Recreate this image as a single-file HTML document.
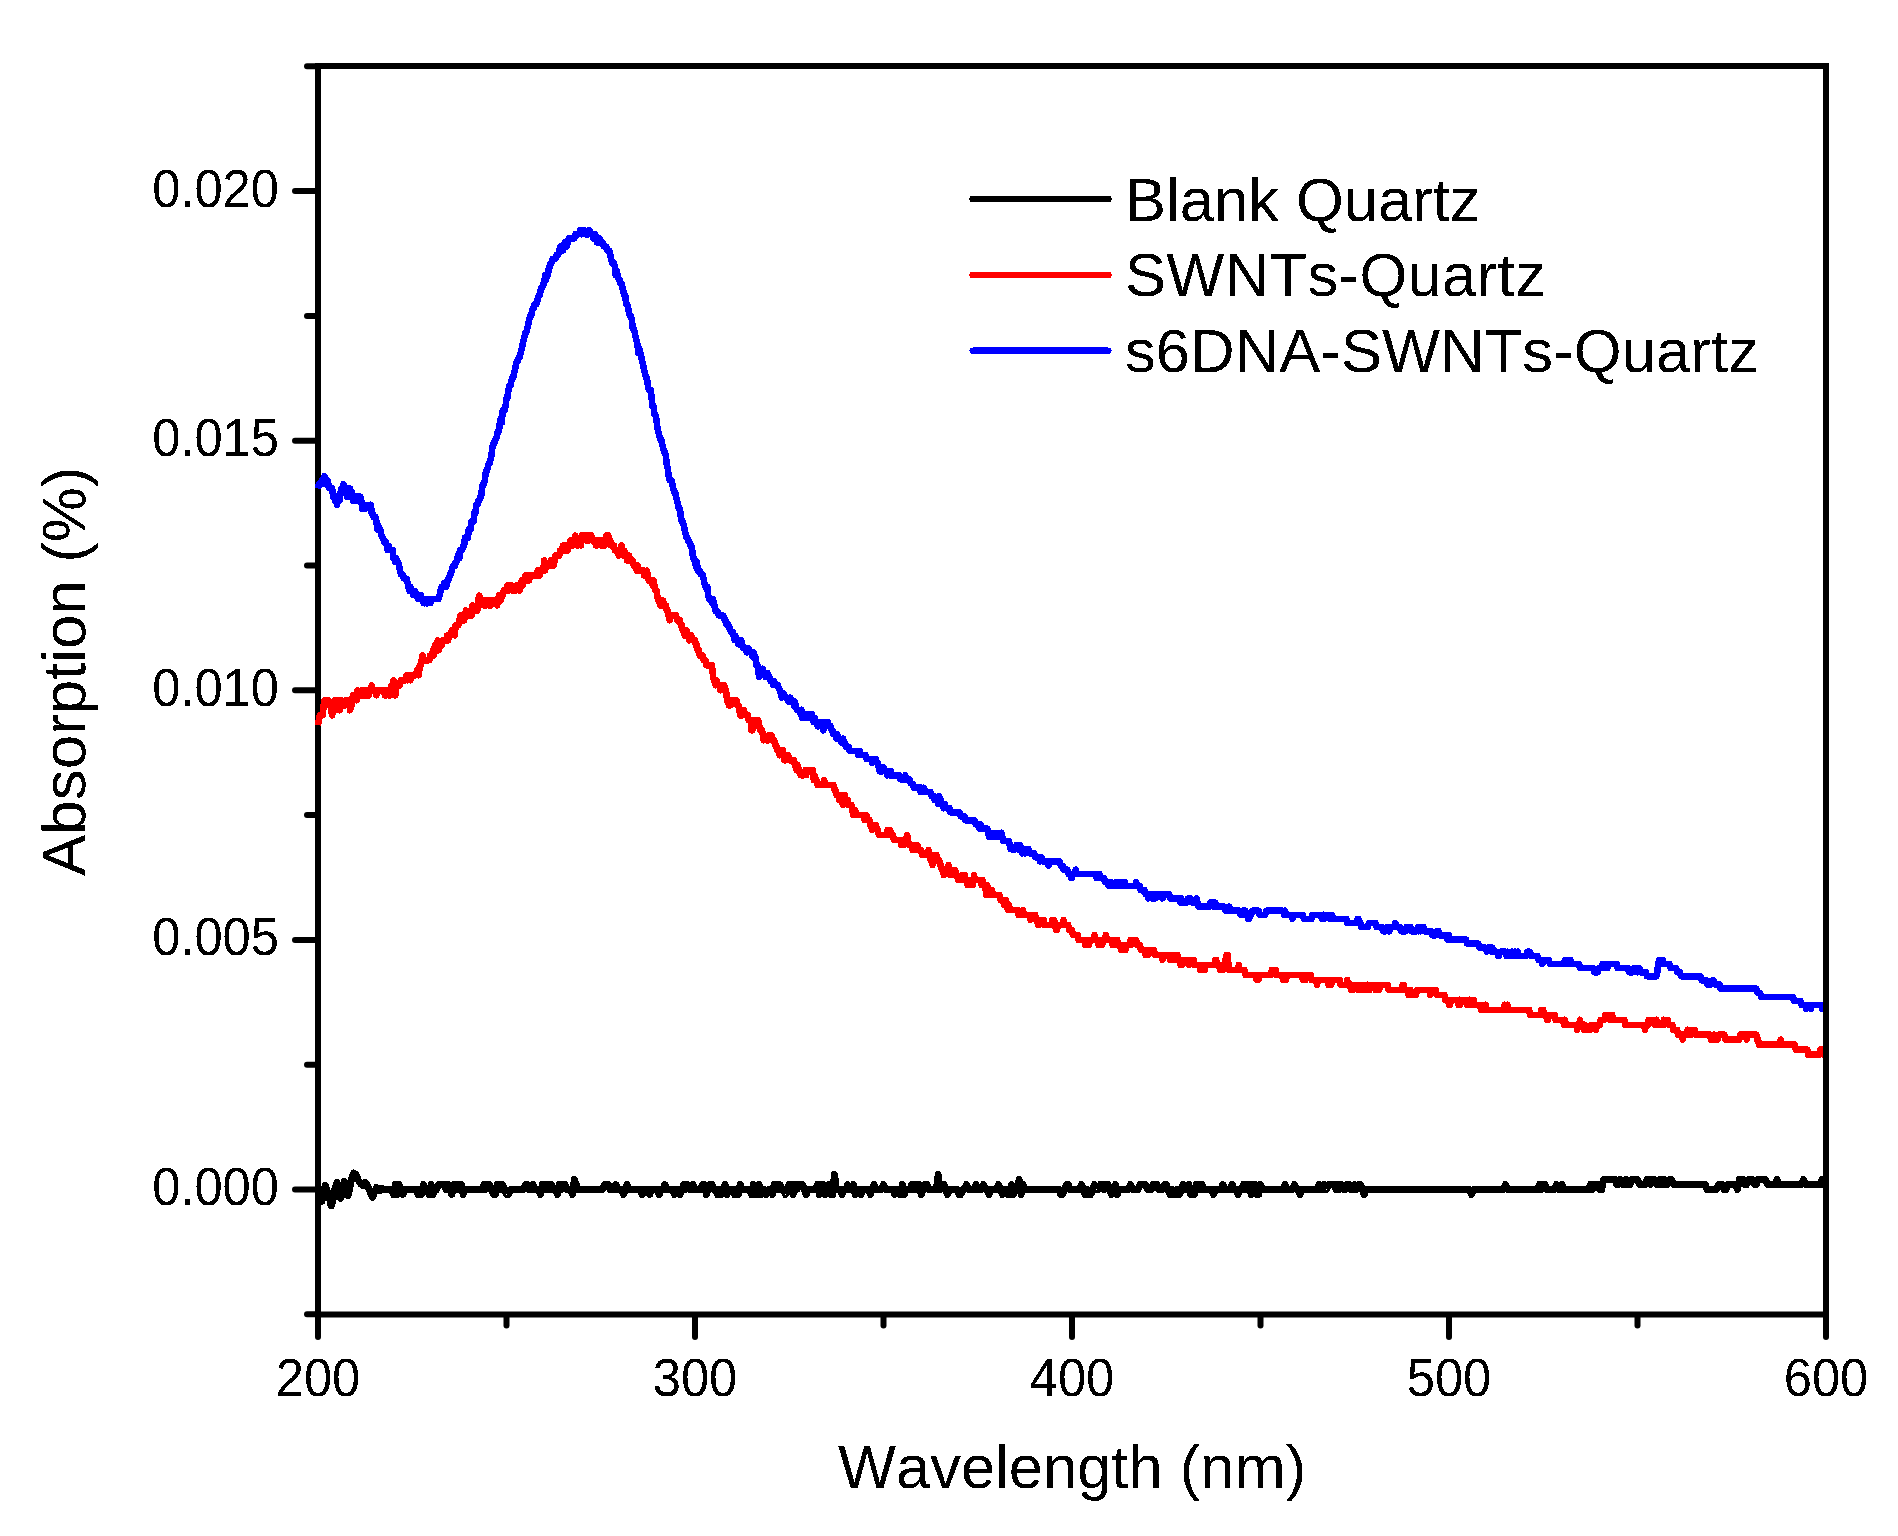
<!DOCTYPE html>
<html lang="en">
<head>
<meta charset="utf-8">
<title>Absorption spectra</title>
<style>
html,body{margin:0;padding:0;background:#fff;}
body{width:1898px;height:1536px;overflow:hidden;}
svg{display:block;}
text{font-family:"Liberation Sans",sans-serif;fill:#000;font-kerning:none;font-feature-settings:"kern" 0;}
.tk{font-size:50.7px;}
.lb{font-size:61.5px;}
.curve{fill:none;shape-rendering:crispEdges;stroke-width:7;stroke-linejoin:round;stroke-linecap:butt;}
</style>
</head>
<body>
<svg width="1898" height="1536" viewBox="0 0 1898 1536">
<defs>
<filter id="hard" filterUnits="userSpaceOnUse" x="0" y="0" width="1898" height="1536" color-interpolation-filters="sRGB">
<feComponentTransfer><feFuncA type="discrete" tableValues="0 1"/></feComponentTransfer>
</filter>
</defs>
<rect x="0" y="0" width="1898" height="1536" fill="#fff"/>
<!-- frame -->
<rect x="318.0" y="66.0" width="1508.0" height="1248.5" fill="none" stroke="#000" stroke-width="6"/>
<!-- data curves -->
<polyline class="curve" stroke="#000" points="318.0,1186.5 319.9,1192.5 321.8,1201.5 323.7,1194.5 325.5,1185.5 327.4,1191.5 329.3,1197.5 331.2,1206.0 333.1,1199.5 335.0,1188.5 336.9,1182.5 338.7,1187.5 340.6,1198.5 342.5,1192.5 344.4,1181.5 346.3,1188.5 348.2,1195.5 350.0,1186.5 351.9,1177.5 353.8,1173.0 355.7,1174.5 357.6,1178.5 359.5,1182.5 361.4,1184.5 363.2,1185.5 365.1,1182.5 367.0,1184.5 368.9,1188.5 370.8,1193.5 372.7,1197.5 374.6,1191.5 376.4,1187.5 378.3,1188.5 380.2,1190.5 382.1,1188.5 384.0,1189.5 385.9,1189.5 387.7,1189.5 389.6,1189.5 391.5,1189.5 393.4,1194.5 395.3,1184.5 397.2,1194.5 399.1,1184.5 400.9,1189.5 402.8,1194.5 404.7,1189.5 406.6,1189.5 408.5,1189.5 410.4,1189.5 412.2,1189.5 414.1,1189.5 416.0,1189.5 417.9,1194.5 419.8,1189.5 421.7,1194.5 423.6,1184.5 425.4,1189.5 427.3,1189.5 429.2,1194.5 431.1,1184.5 433.0,1194.5 434.9,1189.5 436.8,1189.5 438.6,1184.5 440.5,1184.5 442.4,1184.5 444.3,1184.5 446.2,1189.5 448.1,1184.5 449.9,1189.5 451.8,1194.5 453.7,1184.5 455.6,1189.5 457.5,1184.5 459.4,1189.5 461.3,1184.5 463.1,1194.5 465.0,1189.5 466.9,1189.5 468.8,1189.5 470.7,1189.5 472.6,1189.5 474.5,1189.5 476.3,1189.5 478.2,1189.5 480.1,1189.5 482.0,1189.5 483.9,1184.5 485.8,1189.5 487.6,1184.5 489.5,1184.5 491.4,1189.5 493.3,1194.5 495.2,1194.5 497.1,1184.5 499.0,1184.5 500.8,1189.5 502.7,1184.5 504.6,1189.5 506.5,1194.5 508.4,1194.5 510.3,1189.5 512.2,1189.5 514.0,1189.5 515.9,1189.5 517.8,1189.5 519.7,1189.5 521.6,1189.5 523.5,1189.5 525.4,1184.5 527.2,1184.5 529.1,1189.5 531.0,1189.5 532.9,1184.5 534.8,1189.5 536.7,1189.5 538.5,1189.5 540.4,1194.5 542.3,1184.5 544.2,1184.5 546.1,1189.5 548.0,1184.5 549.9,1189.5 551.7,1184.5 553.6,1189.5 555.5,1189.5 557.4,1194.5 559.3,1184.5 561.2,1189.5 563.0,1184.5 564.9,1184.5 566.8,1189.5 568.7,1189.5 570.6,1189.5 572.5,1194.5 574.4,1179.5 576.2,1184.5 578.1,1189.5 580.0,1189.5 581.9,1189.5 583.8,1189.5 585.7,1189.5 587.6,1189.5 589.4,1189.5 591.3,1189.5 593.2,1189.5 595.1,1189.5 597.0,1189.5 598.9,1189.5 600.8,1189.5 602.6,1189.5 604.5,1184.5 606.4,1184.5 608.3,1184.5 610.2,1189.5 612.1,1189.5 613.9,1189.5 615.8,1184.5 617.7,1189.5 619.6,1189.5 621.5,1189.5 623.4,1194.5 625.3,1189.5 627.1,1184.5 629.0,1189.5 630.9,1189.5 632.8,1189.5 634.7,1189.5 636.6,1189.5 638.5,1189.5 640.3,1189.5 642.2,1194.5 644.1,1189.5 646.0,1189.5 647.9,1189.5 649.8,1194.5 651.6,1189.5 653.5,1189.5 655.4,1189.5 657.3,1189.5 659.2,1194.5 661.1,1189.5 663.0,1189.5 664.8,1184.5 666.7,1189.5 668.6,1189.5 670.5,1189.5 672.4,1189.5 674.3,1194.5 676.1,1189.5 678.0,1189.5 679.9,1194.5 681.8,1189.5 683.7,1184.5 685.6,1189.5 687.5,1184.5 689.3,1189.5 691.2,1189.5 693.1,1184.5 695.0,1189.5 696.9,1189.5 698.8,1189.5 700.7,1189.5 702.5,1184.5 704.4,1184.5 706.3,1194.5 708.2,1189.5 710.1,1184.5 712.0,1184.5 713.9,1189.5 715.7,1189.5 717.6,1194.5 719.5,1189.5 721.4,1194.5 723.3,1189.5 725.2,1184.5 727.0,1194.5 728.9,1189.5 730.8,1189.5 732.7,1189.5 734.6,1194.5 736.5,1189.5 738.4,1194.5 740.2,1184.5 742.1,1189.5 744.0,1189.5 745.9,1189.5 747.8,1189.5 749.7,1189.5 751.5,1194.5 753.4,1184.5 755.3,1194.5 757.2,1194.5 759.1,1184.5 761.0,1194.5 762.9,1189.5 764.7,1189.5 766.6,1194.5 768.5,1189.5 770.4,1189.5 772.3,1194.5 774.2,1184.5 776.1,1184.5 777.9,1189.5 779.8,1184.5 781.7,1189.5 783.6,1189.5 785.5,1194.5 787.4,1189.5 789.2,1184.5 791.1,1184.5 793.0,1194.5 794.9,1184.5 796.8,1189.5 798.7,1184.5 800.6,1184.5 802.4,1184.5 804.3,1189.5 806.2,1194.5 808.1,1189.5 810.0,1189.5 811.9,1189.5 813.8,1189.5 815.6,1189.5 817.5,1184.5 819.4,1194.5 821.3,1184.5 823.2,1184.5 825.1,1194.5 827.0,1189.5 828.8,1184.5 830.7,1194.5 832.6,1194.5 834.5,1174.5 836.4,1189.5 838.3,1189.5 840.1,1189.5 842.0,1194.5 843.9,1189.5 845.8,1189.5 847.7,1184.5 849.6,1189.5 851.5,1189.5 853.3,1184.5 855.2,1194.5 857.1,1189.5 859.0,1189.5 860.9,1194.5 862.8,1189.5 864.6,1189.5 866.5,1189.5 868.4,1189.5 870.3,1194.5 872.2,1189.5 874.1,1184.5 876.0,1189.5 877.8,1189.5 879.7,1189.5 881.6,1189.5 883.5,1184.5 885.4,1189.5 887.3,1189.5 889.2,1189.5 891.0,1189.5 892.9,1189.5 894.8,1194.5 896.7,1189.5 898.6,1189.5 900.5,1194.5 902.4,1184.5 904.2,1194.5 906.1,1189.5 908.0,1189.5 909.9,1189.5 911.8,1184.5 913.7,1189.5 915.5,1184.5 917.4,1189.5 919.3,1184.5 921.2,1194.5 923.1,1189.5 925.0,1184.5 926.9,1184.5 928.7,1189.5 930.6,1189.5 932.5,1189.5 934.4,1189.5 936.3,1189.5 938.2,1174.5 940.0,1189.5 941.9,1184.5 943.8,1184.5 945.7,1189.5 947.6,1194.5 949.5,1189.5 951.4,1189.5 953.2,1189.5 955.1,1189.5 957.0,1189.5 958.9,1194.5 960.8,1194.5 962.7,1189.5 964.6,1189.5 966.4,1184.5 968.3,1189.5 970.2,1189.5 972.1,1189.5 974.0,1189.5 975.9,1184.5 977.8,1189.5 979.6,1189.5 981.5,1189.5 983.4,1184.5 985.3,1189.5 987.2,1189.5 989.1,1194.5 990.9,1189.5 992.8,1189.5 994.7,1189.5 996.6,1189.5 998.5,1184.5 1000.4,1189.5 1002.3,1194.5 1004.1,1189.5 1006.0,1189.5 1007.9,1194.5 1009.8,1194.5 1011.7,1184.5 1013.6,1194.5 1015.5,1189.5 1017.3,1189.5 1019.2,1179.5 1021.1,1194.5 1023.0,1184.5 1024.9,1189.5 1026.8,1189.5 1028.6,1189.5 1030.5,1189.5 1032.4,1189.5 1034.3,1189.5 1036.2,1189.5 1038.1,1189.5 1040.0,1189.5 1041.8,1189.5 1043.7,1189.5 1045.6,1189.5 1047.5,1189.5 1049.4,1189.5 1051.3,1189.5 1053.2,1189.5 1055.0,1189.5 1056.9,1189.5 1058.8,1189.5 1060.7,1194.5 1062.6,1194.5 1064.5,1189.5 1066.3,1184.5 1068.2,1184.5 1070.1,1189.5 1072.0,1189.5 1073.9,1189.5 1075.8,1189.5 1077.7,1189.5 1079.5,1189.5 1081.4,1184.5 1083.3,1189.5 1085.2,1194.5 1087.1,1189.5 1089.0,1194.5 1090.8,1194.5 1092.7,1189.5 1094.6,1184.5 1096.5,1189.5 1098.4,1189.5 1100.3,1184.5 1102.2,1184.5 1104.0,1189.5 1105.9,1184.5 1107.8,1184.5 1109.7,1189.5 1111.6,1194.5 1113.5,1189.5 1115.4,1184.5 1117.2,1194.5 1119.1,1189.5 1121.0,1189.5 1122.9,1189.5 1124.8,1189.5 1126.7,1189.5 1128.5,1189.5 1130.4,1184.5 1132.3,1189.5 1134.2,1189.5 1136.1,1189.5 1138.0,1189.5 1139.9,1184.5 1141.7,1184.5 1143.6,1184.5 1145.5,1184.5 1147.4,1189.5 1149.3,1189.5 1151.2,1189.5 1153.1,1184.5 1154.9,1184.5 1156.8,1184.5 1158.7,1189.5 1160.6,1189.5 1162.5,1189.5 1164.4,1184.5 1166.2,1184.5 1168.1,1189.5 1170.0,1194.5 1171.9,1189.5 1173.8,1194.5 1175.7,1194.5 1177.6,1189.5 1179.4,1194.5 1181.3,1189.5 1183.2,1184.5 1185.1,1189.5 1187.0,1189.5 1188.9,1184.5 1190.8,1194.5 1192.6,1189.5 1194.5,1194.5 1196.4,1184.5 1198.3,1184.5 1200.2,1189.5 1202.1,1184.5 1204.0,1189.5 1205.8,1189.5 1207.7,1189.5 1209.6,1189.5 1211.5,1189.5 1213.4,1194.5 1215.3,1189.5 1217.1,1189.5 1219.0,1189.5 1220.9,1189.5 1222.8,1184.5 1224.7,1189.5 1226.6,1189.5 1228.5,1189.5 1230.3,1189.5 1232.2,1184.5 1234.1,1189.5 1236.0,1189.5 1237.9,1194.5 1239.8,1189.5 1241.7,1189.5 1243.5,1184.5 1245.4,1189.5 1247.3,1184.5 1249.2,1184.5 1251.1,1194.5 1253.0,1184.5 1254.8,1184.5 1256.7,1194.5 1258.6,1194.5 1260.5,1184.5 1262.4,1189.5 1264.3,1189.5 1266.2,1189.5 1268.0,1189.5 1269.9,1189.5 1271.8,1189.5 1273.7,1189.5 1275.6,1189.5 1277.5,1189.5 1279.3,1189.5 1281.2,1189.5 1283.1,1189.5 1285.0,1184.5 1286.9,1189.5 1288.8,1189.5 1290.7,1189.5 1292.5,1189.5 1294.4,1184.5 1296.3,1189.5 1298.2,1189.5 1300.1,1194.5 1302.0,1189.5 1303.9,1189.5 1305.7,1189.5 1307.6,1189.5 1309.5,1189.5 1311.4,1189.5 1313.3,1189.5 1315.2,1189.5 1317.0,1189.5 1318.9,1184.5 1320.8,1189.5 1322.7,1189.5 1324.6,1184.5 1326.5,1189.5 1328.4,1184.5 1330.2,1184.5 1332.1,1184.5 1334.0,1184.5 1335.9,1189.5 1337.8,1184.5 1339.7,1189.5 1341.6,1184.5 1343.4,1189.5 1345.3,1189.5 1347.2,1184.5 1349.1,1184.5 1351.0,1189.5 1352.9,1189.5 1354.8,1184.5 1356.6,1189.5 1358.5,1184.5 1360.4,1184.5 1362.3,1189.5 1364.2,1194.5 1366.1,1189.5 1367.9,1189.5 1369.8,1189.5 1371.7,1189.5 1373.6,1189.5 1375.5,1189.5 1377.4,1189.5 1379.3,1189.5 1381.1,1189.5 1383.0,1189.5 1384.9,1189.5 1386.8,1189.5 1388.7,1189.5 1390.6,1189.5 1392.5,1189.5 1394.3,1189.5 1396.2,1189.5 1398.1,1189.5 1400.0,1189.5 1401.9,1189.5 1403.8,1189.5 1405.6,1189.5 1407.5,1189.5 1409.4,1189.5 1411.3,1189.5 1413.2,1189.5 1415.1,1189.5 1417.0,1189.5 1418.8,1189.5 1420.7,1189.5 1422.6,1189.5 1424.5,1189.5 1426.4,1189.5 1428.3,1189.5 1430.2,1189.5 1432.0,1189.5 1433.9,1189.5 1435.8,1189.5 1437.7,1189.5 1439.6,1189.5 1441.5,1189.5 1443.3,1189.5 1445.2,1189.5 1447.1,1189.5 1449.0,1189.5 1450.9,1189.5 1452.8,1189.5 1454.7,1189.5 1456.5,1189.5 1458.4,1189.5 1460.3,1189.5 1462.2,1189.5 1464.1,1189.5 1466.0,1189.5 1467.8,1189.5 1469.7,1189.5 1471.6,1194.5 1473.5,1189.5 1475.4,1189.5 1477.3,1189.5 1479.2,1189.5 1481.0,1189.5 1482.9,1189.5 1484.8,1189.5 1486.7,1189.5 1488.6,1189.5 1490.5,1189.5 1492.4,1189.5 1494.2,1189.5 1496.1,1189.5 1498.0,1189.5 1499.9,1189.5 1501.8,1189.5 1503.7,1189.5 1505.5,1184.5 1507.4,1189.5 1509.3,1189.5 1511.2,1189.5 1513.1,1189.5 1515.0,1189.5 1516.9,1189.5 1518.7,1189.5 1520.6,1189.5 1522.5,1189.5 1524.4,1189.5 1526.3,1189.5 1528.2,1189.5 1530.1,1189.5 1531.9,1189.5 1533.8,1189.5 1535.7,1189.5 1537.6,1189.5 1539.5,1184.5 1541.4,1189.5 1543.2,1184.5 1545.1,1184.5 1547.0,1189.5 1548.9,1189.5 1550.8,1189.5 1552.7,1189.5 1554.6,1189.5 1556.4,1184.5 1558.3,1189.5 1560.2,1189.5 1562.1,1184.5 1564.0,1189.5 1565.9,1189.5 1567.8,1189.5 1569.6,1189.5 1571.5,1189.5 1573.4,1189.5 1575.3,1189.5 1577.2,1189.5 1579.1,1189.5 1581.0,1189.5 1582.8,1189.5 1584.7,1189.5 1586.6,1189.5 1588.5,1189.5 1590.4,1184.5 1592.3,1189.5 1594.1,1184.5 1596.0,1184.5 1597.9,1184.5 1599.8,1189.5 1601.7,1189.5 1603.6,1179.5 1605.5,1179.5 1607.3,1179.5 1609.2,1179.5 1611.1,1179.5 1613.0,1179.5 1614.9,1179.5 1616.8,1184.5 1618.7,1184.5 1620.5,1179.5 1622.4,1184.5 1624.3,1184.5 1626.2,1179.5 1628.1,1184.5 1630.0,1184.5 1631.8,1179.5 1633.7,1179.5 1635.6,1179.5 1637.5,1179.5 1639.4,1184.5 1641.3,1184.5 1643.2,1184.5 1645.0,1184.5 1646.9,1179.5 1648.8,1179.5 1650.7,1184.5 1652.6,1179.5 1654.5,1179.5 1656.3,1184.5 1658.2,1184.5 1660.1,1179.5 1662.0,1184.5 1663.9,1179.5 1665.8,1184.5 1667.7,1184.5 1669.5,1179.5 1671.4,1179.5 1673.3,1184.5 1675.2,1184.5 1677.1,1184.5 1679.0,1184.5 1680.9,1184.5 1682.7,1184.5 1684.6,1184.5 1686.5,1184.5 1688.4,1184.5 1690.3,1184.5 1692.2,1184.5 1694.0,1184.5 1695.9,1184.5 1697.8,1184.5 1699.7,1184.5 1701.6,1184.5 1703.5,1184.5 1705.4,1184.5 1707.2,1189.5 1709.1,1189.5 1711.0,1189.5 1712.9,1189.5 1714.8,1189.5 1716.7,1189.5 1718.6,1184.5 1720.4,1184.5 1722.3,1184.5 1724.2,1189.5 1726.1,1189.5 1728.0,1184.5 1729.9,1184.5 1731.8,1184.5 1733.6,1184.5 1735.5,1184.5 1737.4,1189.5 1739.3,1179.5 1741.2,1179.5 1743.1,1179.5 1744.9,1184.5 1746.8,1184.5 1748.7,1179.5 1750.6,1179.5 1752.5,1179.5 1754.4,1184.5 1756.3,1184.5 1758.1,1179.5 1760.0,1179.5 1761.9,1179.5 1763.8,1179.5 1765.7,1179.5 1767.6,1184.5 1769.5,1184.5 1771.3,1184.5 1773.2,1184.5 1775.1,1184.5 1777.0,1179.5 1778.9,1184.5 1780.8,1184.5 1782.6,1184.5 1784.5,1184.5 1786.4,1184.5 1788.3,1184.5 1790.2,1184.5 1792.1,1184.5 1794.0,1184.5 1795.8,1184.5 1797.7,1184.5 1799.6,1184.5 1801.5,1184.5 1803.4,1179.5 1805.3,1184.5 1807.2,1184.5 1809.0,1184.5 1810.9,1184.5 1812.8,1184.5 1814.7,1184.5 1816.6,1184.5 1818.5,1184.5 1820.3,1184.5 1822.2,1179.5 1824.1,1184.5 1826.0,1184.5"/>
<polyline class="curve" style="stroke-width:6.6" stroke="#ff0000" points="318.0,725.2 318.9,720.3 319.9,715.3 320.8,715.3 321.8,715.3 322.7,715.3 323.7,705.3 324.6,700.3 325.5,700.3 326.5,705.3 327.4,700.3 328.4,700.3 329.3,705.3 330.3,705.3 331.2,710.3 332.1,715.3 333.1,710.3 334.0,710.3 335.0,700.3 335.9,705.3 336.9,700.3 337.8,700.3 338.7,700.3 339.7,710.3 340.6,700.3 341.6,700.3 342.5,705.3 343.4,705.3 344.4,705.3 345.3,705.3 346.3,700.3 347.2,705.3 348.2,705.3 349.1,700.3 350.0,710.3 351.0,705.3 351.9,705.3 352.9,695.3 353.8,695.3 354.8,695.3 355.7,695.3 356.6,700.3 357.6,690.3 358.5,695.3 359.5,695.3 360.4,695.3 361.4,695.3 362.3,690.3 363.2,695.3 364.2,690.3 365.1,695.3 366.1,690.3 367.0,695.3 368.0,695.3 368.9,695.3 369.8,690.3 370.8,690.3 371.7,685.3 372.7,690.3 373.6,690.3 374.6,690.3 375.5,690.3 376.4,695.3 377.4,690.3 378.3,690.3 379.3,690.3 380.2,690.3 381.1,690.3 382.1,690.3 383.0,690.3 384.0,690.3 384.9,695.3 385.9,690.3 386.8,695.3 387.7,690.3 388.7,695.3 389.6,695.3 390.6,695.3 391.5,685.3 392.5,685.3 393.4,680.3 394.3,685.3 395.3,695.3 396.2,685.3 397.2,685.3 398.1,685.3 399.1,685.3 400.0,685.3 400.9,680.3 401.9,680.3 402.8,680.3 403.8,680.3 404.7,680.3 405.7,680.3 406.6,675.3 407.5,680.3 408.5,675.3 409.4,675.3 410.4,680.3 411.3,675.3 412.2,675.3 413.2,675.3 414.1,675.3 415.1,675.3 416.0,675.3 417.0,670.3 417.9,670.3 418.8,675.3 419.8,665.3 420.7,665.3 421.7,660.3 422.6,655.4 423.6,660.3 424.5,660.3 425.4,660.3 426.4,660.3 427.3,660.3 428.3,660.3 429.2,660.3 430.2,655.4 431.1,655.4 432.0,655.4 433.0,650.4 433.9,655.4 434.9,645.4 435.8,650.4 436.8,650.4 437.7,640.4 438.6,650.4 439.6,645.4 440.5,645.4 441.5,645.4 442.4,640.4 443.4,640.4 444.3,640.4 445.2,640.4 446.2,640.4 447.1,635.4 448.1,640.4 449.0,635.4 449.9,635.4 450.9,635.4 451.8,630.4 452.8,630.4 453.7,630.4 454.7,635.4 455.6,625.4 456.5,625.4 457.5,625.4 458.4,625.4 459.4,620.4 460.3,615.4 461.3,620.4 462.2,620.4 463.1,615.4 464.1,620.4 465.0,615.4 466.0,610.4 466.9,615.4 467.9,615.4 468.8,615.4 469.7,615.4 470.7,615.4 471.6,615.4 472.6,605.4 473.5,610.4 474.5,610.4 475.4,610.4 476.3,610.4 477.3,610.4 478.2,600.4 479.2,595.5 480.1,600.4 481.1,600.4 482.0,600.4 482.9,600.4 483.9,605.4 484.8,600.4 485.8,605.4 486.7,600.4 487.6,600.4 488.6,600.4 489.5,605.4 490.5,605.4 491.4,600.4 492.4,600.4 493.3,600.4 494.2,600.4 495.2,600.4 496.1,600.4 497.1,605.4 498.0,600.4 499.0,595.5 499.9,595.5 500.8,600.4 501.8,595.5 502.7,595.5 503.7,590.5 504.6,590.5 505.6,590.5 506.5,590.5 507.4,585.5 508.4,590.5 509.3,590.5 510.3,585.5 511.2,585.5 512.2,590.5 513.1,590.5 514.0,590.5 515.0,590.5 515.9,590.5 516.9,585.5 517.8,585.5 518.8,590.5 519.7,590.5 520.6,585.5 521.6,580.5 522.5,585.5 523.5,580.5 524.4,580.5 525.4,575.5 526.3,580.5 527.2,580.5 528.2,575.5 529.1,580.5 530.1,575.5 531.0,575.5 531.9,575.5 532.9,575.5 533.8,575.5 534.8,575.5 535.7,575.5 536.7,575.5 537.6,570.5 538.5,575.5 539.5,575.5 540.4,570.5 541.4,570.5 542.3,570.5 543.3,570.5 544.2,560.5 545.1,570.5 546.1,565.5 547.0,565.5 548.0,565.5 548.9,565.5 549.9,565.5 550.8,560.5 551.7,565.5 552.7,560.5 553.6,565.5 554.6,560.5 555.5,555.5 556.5,555.5 557.4,555.5 558.3,555.5 559.3,555.5 560.2,550.5 561.2,550.5 562.1,550.5 563.0,545.5 564.0,550.5 564.9,550.5 565.9,545.5 566.8,545.5 567.8,550.5 568.7,545.5 569.6,545.5 570.6,540.5 571.5,540.5 572.5,540.5 573.4,545.5 574.4,540.5 575.3,535.5 576.2,540.5 577.2,545.5 578.1,545.5 579.1,540.5 580.0,540.5 581.0,545.5 581.9,535.5 582.8,540.5 583.8,535.5 584.7,535.5 585.7,535.5 586.6,540.5 587.6,540.5 588.5,535.5 589.4,540.5 590.4,535.5 591.3,535.5 592.3,540.5 593.2,540.5 594.2,540.5 595.1,540.5 596.0,545.5 597.0,545.5 597.9,540.5 598.9,540.5 599.8,540.5 600.8,540.5 601.7,545.5 602.6,540.5 603.6,540.5 604.5,545.5 605.5,540.5 606.4,535.5 607.3,535.5 608.3,535.5 609.2,540.5 610.2,540.5 611.1,545.5 612.1,545.5 613.0,545.5 613.9,545.5 614.9,550.5 615.8,550.5 616.8,550.5 617.7,550.5 618.7,555.5 619.6,550.5 620.5,550.5 621.5,545.5 622.4,550.5 623.4,555.5 624.3,550.5 625.3,555.5 626.2,555.5 627.1,560.5 628.1,560.5 629.0,555.5 630.0,560.5 630.9,560.5 631.9,560.5 632.8,560.5 633.7,565.5 634.7,565.5 635.6,565.5 636.6,570.5 637.5,565.5 638.5,570.5 639.4,570.5 640.3,570.5 641.3,570.5 642.2,570.5 643.2,570.5 644.1,575.5 645.0,575.5 646.0,575.5 646.9,570.5 647.9,575.5 648.8,580.5 649.8,580.5 650.7,580.5 651.6,580.5 652.6,585.5 653.5,580.5 654.5,585.5 655.4,590.5 656.4,590.5 657.3,595.5 658.2,600.4 659.2,600.4 660.1,605.4 661.1,600.4 662.0,605.4 663.0,600.4 663.9,605.4 664.8,605.4 665.8,605.4 666.7,610.4 667.7,610.4 668.6,615.4 669.6,620.4 670.5,615.4 671.4,615.4 672.4,615.4 673.3,615.4 674.3,615.4 675.2,615.4 676.1,615.4 677.1,620.4 678.0,620.4 679.0,620.4 679.9,620.4 680.9,625.4 681.8,625.4 682.7,630.4 683.7,630.4 684.6,635.4 685.6,635.4 686.5,630.4 687.5,635.4 688.4,635.4 689.3,640.4 690.3,635.4 691.2,635.4 692.2,640.4 693.1,640.4 694.1,640.4 695.0,640.4 695.9,645.4 696.9,645.4 697.8,650.4 698.8,650.4 699.7,655.4 700.7,655.4 701.6,655.4 702.5,655.4 703.5,660.3 704.4,660.3 705.4,660.3 706.3,665.3 707.3,665.3 708.2,665.3 709.1,665.3 710.1,665.3 711.0,665.3 712.0,665.3 712.9,675.3 713.9,680.3 714.8,680.3 715.7,685.3 716.7,680.3 717.6,685.3 718.6,685.3 719.5,685.3 720.4,690.3 721.4,685.3 722.3,685.3 723.3,685.3 724.2,685.3 725.2,690.3 726.1,690.3 727.0,700.3 728.0,700.3 728.9,705.3 729.9,705.3 730.8,705.3 731.8,700.3 732.7,700.3 733.6,700.3 734.6,700.3 735.5,700.3 736.5,700.3 737.4,705.3 738.4,705.3 739.3,710.3 740.2,715.3 741.2,710.3 742.1,715.3 743.1,710.3 744.0,710.3 745.0,715.3 745.9,715.3 746.8,715.3 747.8,715.3 748.7,720.3 749.7,720.3 750.6,720.3 751.5,730.2 752.5,730.2 753.4,725.2 754.4,720.3 755.3,725.2 756.3,725.2 757.2,725.2 758.1,720.3 759.1,725.2 760.0,730.2 761.0,730.2 761.9,730.2 762.9,735.2 763.8,740.2 764.7,735.2 765.7,740.2 766.6,740.2 767.6,740.2 768.5,740.2 769.5,735.2 770.4,735.2 771.3,735.2 772.3,740.2 773.2,740.2 774.2,740.2 775.1,745.2 776.1,745.2 777.0,750.2 777.9,750.2 778.9,750.2 779.8,755.2 780.8,750.2 781.7,750.2 782.7,750.2 783.6,755.2 784.5,760.2 785.5,760.2 786.4,760.2 787.4,755.2 788.3,755.2 789.2,760.2 790.2,760.2 791.1,760.2 792.1,760.2 793.0,760.2 794.0,760.2 794.9,765.2 795.8,765.2 796.8,770.2 797.7,765.2 798.7,770.2 799.6,770.2 800.6,775.2 801.5,775.2 802.4,775.2 803.4,775.2 804.3,775.2 805.3,770.2 806.2,775.2 807.2,770.2 808.1,770.2 809.0,770.2 810.0,770.2 810.9,770.2 811.9,770.2 812.8,770.2 813.8,780.2 814.7,775.2 815.6,780.2 816.6,780.2 817.5,785.1 818.5,785.1 819.4,785.1 820.4,785.1 821.3,785.1 822.2,785.1 823.2,785.1 824.1,780.2 825.1,785.1 826.0,785.1 827.0,785.1 827.9,785.1 828.8,785.1 829.8,785.1 830.7,785.1 831.7,785.1 832.6,785.1 833.5,785.1 834.5,790.1 835.4,790.1 836.4,795.1 837.3,795.1 838.3,795.1 839.2,800.1 840.1,800.1 841.1,795.1 842.0,800.1 843.0,805.1 843.9,800.1 844.9,795.1 845.8,800.1 846.7,800.1 847.7,800.1 848.6,805.1 849.6,805.1 850.5,805.1 851.5,805.1 852.4,810.1 853.3,815.1 854.3,815.1 855.2,810.1 856.2,815.1 857.1,815.1 858.1,815.1 859.0,815.1 859.9,815.1 860.9,815.1 861.8,815.1 862.8,815.1 863.7,815.1 864.6,820.1 865.6,820.1 866.5,815.1 867.5,820.1 868.4,820.1 869.4,820.1 870.3,825.1 871.2,825.1 872.2,830.1 873.1,825.1 874.1,825.1 875.0,825.1 876.0,825.1 876.9,830.1 877.8,830.1 878.8,835.1 879.7,835.1 880.7,835.1 881.6,835.1 882.6,835.1 883.5,835.1 884.4,835.1 885.4,835.1 886.3,835.1 887.3,830.1 888.2,835.1 889.2,830.1 890.1,830.1 891.0,835.1 892.0,835.1 892.9,835.1 893.9,840.1 894.8,840.1 895.8,840.1 896.7,840.1 897.6,840.1 898.6,840.1 899.5,840.1 900.5,840.1 901.4,845.1 902.4,845.1 903.3,845.1 904.2,845.1 905.2,840.1 906.1,840.1 907.1,835.1 908.0,840.1 908.9,845.1 909.9,845.1 910.8,845.1 911.8,845.1 912.7,850.0 913.7,850.0 914.6,850.0 915.5,845.1 916.5,850.0 917.4,845.1 918.4,850.0 919.3,850.0 920.3,850.0 921.2,850.0 922.1,855.0 923.1,855.0 924.0,855.0 925.0,855.0 925.9,855.0 926.9,855.0 927.8,855.0 928.7,850.0 929.7,855.0 930.6,860.0 931.6,860.0 932.5,865.0 933.5,860.0 934.4,860.0 935.3,855.0 936.3,855.0 937.2,860.0 938.2,860.0 939.1,860.0 940.0,865.0 941.0,865.0 941.9,870.0 942.9,870.0 943.8,875.0 944.8,870.0 945.7,870.0 946.6,870.0 947.6,870.0 948.5,865.0 949.5,870.0 950.4,875.0 951.4,875.0 952.3,870.0 953.2,870.0 954.2,875.0 955.1,870.0 956.1,875.0 957.0,875.0 958.0,880.0 958.9,880.0 959.8,880.0 960.8,880.0 961.7,880.0 962.7,875.0 963.6,875.0 964.6,875.0 965.5,880.0 966.4,880.0 967.4,885.0 968.3,880.0 969.3,880.0 970.2,880.0 971.2,885.0 972.1,880.0 973.0,885.0 974.0,875.0 974.9,880.0 975.9,880.0 976.8,880.0 977.8,880.0 978.7,880.0 979.6,880.0 980.6,880.0 981.5,885.0 982.5,880.0 983.4,885.0 984.3,885.0 985.3,885.0 986.2,895.0 987.2,885.0 988.1,890.0 989.1,895.0 990.0,895.0 990.9,895.0 991.9,890.0 992.8,895.0 993.8,895.0 994.7,895.0 995.7,895.0 996.6,895.0 997.5,895.0 998.5,895.0 999.4,895.0 1000.4,900.0 1001.3,900.0 1002.3,900.0 1003.2,900.0 1004.1,905.0 1005.1,905.0 1006.0,900.0 1007.0,905.0 1007.9,909.9 1008.9,905.0 1009.8,909.9 1010.7,909.9 1011.7,909.9 1012.6,909.9 1013.6,909.9 1014.5,909.9 1015.5,909.9 1016.4,909.9 1017.3,909.9 1018.3,914.9 1019.2,914.9 1020.2,914.9 1021.1,914.9 1022.0,914.9 1023.0,909.9 1023.9,914.9 1024.9,914.9 1025.8,914.9 1026.8,914.9 1027.7,914.9 1028.6,914.9 1029.6,914.9 1030.5,919.9 1031.5,914.9 1032.4,914.9 1033.4,914.9 1034.3,914.9 1035.2,914.9 1036.2,919.9 1037.1,919.9 1038.1,924.9 1039.0,924.9 1040.0,919.9 1040.9,919.9 1041.8,919.9 1042.8,919.9 1043.7,919.9 1044.7,924.9 1045.6,924.9 1046.6,924.9 1047.5,924.9 1048.4,924.9 1049.4,924.9 1050.3,924.9 1051.3,924.9 1052.2,919.9 1053.2,924.9 1054.1,919.9 1055.0,924.9 1056.0,929.9 1056.9,929.9 1057.9,924.9 1058.8,924.9 1059.7,924.9 1060.7,924.9 1061.6,924.9 1062.6,924.9 1063.5,919.9 1064.5,924.9 1065.4,924.9 1066.3,924.9 1067.3,924.9 1068.2,924.9 1069.2,929.9 1070.1,929.9 1071.1,929.9 1072.0,929.9 1072.9,934.9 1073.9,934.9 1074.8,934.9 1075.8,934.9 1076.7,934.9 1077.7,934.9 1078.6,939.9 1079.5,939.9 1080.5,939.9 1081.4,939.9 1082.4,939.9 1083.3,939.9 1084.3,939.9 1085.2,944.9 1086.1,939.9 1087.1,944.9 1088.0,939.9 1089.0,944.9 1089.9,939.9 1090.8,939.9 1091.8,939.9 1092.7,939.9 1093.7,939.9 1094.6,934.9 1095.6,939.9 1096.5,939.9 1097.4,939.9 1098.4,944.9 1099.3,944.9 1100.3,939.9 1101.2,944.9 1102.2,944.9 1103.1,939.9 1104.0,939.9 1105.0,939.9 1105.9,934.9 1106.9,939.9 1107.8,939.9 1108.8,939.9 1109.7,939.9 1110.6,939.9 1111.6,939.9 1112.5,944.9 1113.5,944.9 1114.4,939.9 1115.4,944.9 1116.3,944.9 1117.2,939.9 1118.2,944.9 1119.1,944.9 1120.1,944.9 1121.0,949.9 1122.0,944.9 1122.9,949.9 1123.8,944.9 1124.8,944.9 1125.7,949.9 1126.7,944.9 1127.6,944.9 1128.5,944.9 1129.5,944.9 1130.4,939.9 1131.4,944.9 1132.3,939.9 1133.3,939.9 1134.2,939.9 1135.1,939.9 1136.1,939.9 1137.0,944.9 1138.0,944.9 1138.9,944.9 1139.9,944.9 1140.8,949.9 1141.7,949.9 1142.7,949.9 1143.6,949.9 1144.6,949.9 1145.5,954.9 1146.5,954.9 1147.4,949.9 1148.3,954.9 1149.3,949.9 1150.2,949.9 1151.2,949.9 1152.1,949.9 1153.1,949.9 1154.0,949.9 1154.9,954.9 1155.9,954.9 1156.8,954.9 1157.8,954.9 1158.7,954.9 1159.7,954.9 1160.6,954.9 1161.5,954.9 1162.5,959.9 1163.4,954.9 1164.4,954.9 1165.3,954.9 1166.2,954.9 1167.2,954.9 1168.1,954.9 1169.1,954.9 1170.0,959.9 1171.0,954.9 1171.9,959.9 1172.8,959.9 1173.8,954.9 1174.7,959.9 1175.7,959.9 1176.6,959.9 1177.6,954.9 1178.5,959.9 1179.4,959.9 1180.4,964.9 1181.3,959.9 1182.3,964.9 1183.2,959.9 1184.2,959.9 1185.1,959.9 1186.0,959.9 1187.0,959.9 1187.9,959.9 1188.9,964.9 1189.8,959.9 1190.8,959.9 1191.7,959.9 1192.6,959.9 1193.6,959.9 1194.5,964.9 1195.5,964.9 1196.4,964.9 1197.4,964.9 1198.3,964.9 1199.2,964.9 1200.2,969.9 1201.1,964.9 1202.1,969.9 1203.0,969.9 1204.0,969.9 1204.9,969.9 1205.8,964.9 1206.8,964.9 1207.7,964.9 1208.7,964.9 1209.6,964.9 1210.5,964.9 1211.5,964.9 1212.4,964.9 1213.4,964.9 1214.3,964.9 1215.3,959.9 1216.2,959.9 1217.1,964.9 1218.1,964.9 1219.0,964.9 1220.0,969.9 1220.9,964.9 1221.9,964.9 1222.8,969.9 1223.7,964.9 1224.7,964.9 1225.6,959.9 1226.6,954.9 1227.5,954.9 1228.5,964.9 1229.4,969.9 1230.3,969.9 1231.3,969.9 1232.2,969.9 1233.2,969.9 1234.1,969.9 1235.1,969.9 1236.0,969.9 1236.9,969.9 1237.9,969.9 1238.8,964.9 1239.8,969.9 1240.7,969.9 1241.7,969.9 1242.6,969.9 1243.5,969.9 1244.5,969.9 1245.4,974.8 1246.4,974.8 1247.3,974.8 1248.2,974.8 1249.2,974.8 1250.1,974.8 1251.1,974.8 1252.0,974.8 1253.0,974.8 1253.9,974.8 1254.8,974.8 1255.8,974.8 1256.7,979.8 1257.7,979.8 1258.6,979.8 1259.6,974.8 1260.5,974.8 1261.4,974.8 1262.4,974.8 1263.3,974.8 1264.3,974.8 1265.2,974.8 1266.2,974.8 1267.1,974.8 1268.0,974.8 1269.0,974.8 1269.9,974.8 1270.9,974.8 1271.8,969.9 1272.8,969.9 1273.7,969.9 1274.6,969.9 1275.6,969.9 1276.5,974.8 1277.5,974.8 1278.4,974.8 1279.3,974.8 1280.3,974.8 1281.2,974.8 1282.2,974.8 1283.1,979.8 1284.1,979.8 1285.0,974.8 1285.9,979.8 1286.9,974.8 1287.8,974.8 1288.8,974.8 1289.7,974.8 1290.7,974.8 1291.6,974.8 1292.5,974.8 1293.5,974.8 1294.4,974.8 1295.4,974.8 1296.3,974.8 1297.3,974.8 1298.2,974.8 1299.1,974.8 1300.1,974.8 1301.0,974.8 1302.0,974.8 1302.9,979.8 1303.9,979.8 1304.8,979.8 1305.7,979.8 1306.7,974.8 1307.6,974.8 1308.6,974.8 1309.5,974.8 1310.5,974.8 1311.4,979.8 1312.3,979.8 1313.3,979.8 1314.2,979.8 1315.2,979.8 1316.1,979.8 1317.0,984.8 1318.0,979.8 1318.9,979.8 1319.9,979.8 1320.8,979.8 1321.8,979.8 1322.7,979.8 1323.6,979.8 1324.6,979.8 1325.5,979.8 1326.5,979.8 1327.4,979.8 1328.4,984.8 1329.3,979.8 1330.2,979.8 1331.2,984.8 1332.1,979.8 1333.1,979.8 1334.0,979.8 1335.0,979.8 1335.9,979.8 1336.8,979.8 1337.8,979.8 1338.7,979.8 1339.7,979.8 1340.6,984.8 1341.6,984.8 1342.5,984.8 1343.4,984.8 1344.4,984.8 1345.3,984.8 1346.3,984.8 1347.2,979.8 1348.2,984.8 1349.1,984.8 1350.0,984.8 1351.0,989.8 1351.9,984.8 1352.9,989.8 1353.8,984.8 1354.8,984.8 1355.7,984.8 1356.6,984.8 1357.6,989.8 1358.5,989.8 1359.5,984.8 1360.4,984.8 1361.3,989.8 1362.3,989.8 1363.2,984.8 1364.2,984.8 1365.1,989.8 1366.1,984.8 1367.0,989.8 1367.9,984.8 1368.9,989.8 1369.8,989.8 1370.8,984.8 1371.7,984.8 1372.7,984.8 1373.6,984.8 1374.5,984.8 1375.5,989.8 1376.4,984.8 1377.4,984.8 1378.3,984.8 1379.3,989.8 1380.2,984.8 1381.1,984.8 1382.1,984.8 1383.0,984.8 1384.0,984.8 1384.9,984.8 1385.9,984.8 1386.8,984.8 1387.7,984.8 1388.7,989.8 1389.6,989.8 1390.6,989.8 1391.5,989.8 1392.5,989.8 1393.4,989.8 1394.3,989.8 1395.3,989.8 1396.2,989.8 1397.2,989.8 1398.1,989.8 1399.0,989.8 1400.0,989.8 1400.9,989.8 1401.9,989.8 1402.8,984.8 1403.8,984.8 1404.7,989.8 1405.6,989.8 1406.6,989.8 1407.5,989.8 1408.5,994.8 1409.4,989.8 1410.4,989.8 1411.3,994.8 1412.2,994.8 1413.2,994.8 1414.1,994.8 1415.1,994.8 1416.0,994.8 1417.0,989.8 1417.9,989.8 1418.8,989.8 1419.8,989.8 1420.7,989.8 1421.7,989.8 1422.6,989.8 1423.6,989.8 1424.5,989.8 1425.4,989.8 1426.4,989.8 1427.3,989.8 1428.3,989.8 1429.2,989.8 1430.2,994.8 1431.1,989.8 1432.0,989.8 1433.0,989.8 1433.9,989.8 1434.9,989.8 1435.8,989.8 1436.7,994.8 1437.7,994.8 1438.6,994.8 1439.6,994.8 1440.5,994.8 1441.5,994.8 1442.4,994.8 1443.3,994.8 1444.3,994.8 1445.2,999.8 1446.2,999.8 1447.1,999.8 1448.1,999.8 1449.0,1004.8 1449.9,1004.8 1450.9,999.8 1451.8,999.8 1452.8,999.8 1453.7,999.8 1454.7,999.8 1455.6,999.8 1456.5,999.8 1457.5,999.8 1458.4,1004.8 1459.4,999.8 1460.3,1004.8 1461.3,999.8 1462.2,999.8 1463.1,999.8 1464.1,999.8 1465.0,999.8 1466.0,999.8 1466.9,1004.8 1467.8,1004.8 1468.8,1004.8 1469.7,999.8 1470.7,1004.8 1471.6,1004.8 1472.6,999.8 1473.5,999.8 1474.4,1004.8 1475.4,1004.8 1476.3,1004.8 1477.3,1004.8 1478.2,1004.8 1479.2,1004.8 1480.1,1004.8 1481.0,1009.8 1482.0,1009.8 1482.9,1004.8 1483.9,1004.8 1484.8,1009.8 1485.8,1004.8 1486.7,1009.8 1487.6,1009.8 1488.6,1009.8 1489.5,1009.8 1490.5,1009.8 1491.4,1009.8 1492.4,1009.8 1493.3,1009.8 1494.2,1009.8 1495.2,1009.8 1496.1,1009.8 1497.1,1009.8 1498.0,1009.8 1499.0,1009.8 1499.9,1009.8 1500.8,1009.8 1501.8,1009.8 1502.7,1009.8 1503.7,1009.8 1504.6,1004.8 1505.5,1009.8 1506.5,1009.8 1507.4,1004.8 1508.4,1009.8 1509.3,1009.8 1510.3,1009.8 1511.2,1009.8 1512.1,1009.8 1513.1,1009.8 1514.0,1009.8 1515.0,1009.8 1515.9,1009.8 1516.9,1009.8 1517.8,1009.8 1518.7,1009.8 1519.7,1009.8 1520.6,1009.8 1521.6,1009.8 1522.5,1009.8 1523.5,1009.8 1524.4,1009.8 1525.3,1009.8 1526.3,1009.8 1527.2,1009.8 1528.2,1009.8 1529.1,1009.8 1530.1,1014.8 1531.0,1014.8 1531.9,1014.8 1532.9,1014.8 1533.8,1014.8 1534.8,1014.8 1535.7,1014.8 1536.7,1014.8 1537.6,1014.8 1538.5,1014.8 1539.5,1014.8 1540.4,1014.8 1541.4,1009.8 1542.3,1009.8 1543.2,1009.8 1544.2,1014.8 1545.1,1014.8 1546.1,1014.8 1547.0,1019.8 1548.0,1019.8 1548.9,1014.8 1549.8,1014.8 1550.8,1014.8 1551.7,1014.8 1552.7,1014.8 1553.6,1014.8 1554.6,1014.8 1555.5,1019.8 1556.4,1019.8 1557.4,1019.8 1558.3,1019.8 1559.3,1019.8 1560.2,1019.8 1561.2,1019.8 1562.1,1019.8 1563.0,1019.8 1564.0,1024.8 1564.9,1019.8 1565.9,1024.8 1566.8,1024.8 1567.8,1024.8 1568.7,1024.8 1569.6,1024.8 1570.6,1024.8 1571.5,1024.8 1572.5,1024.8 1573.4,1024.8 1574.4,1024.8 1575.3,1024.8 1576.2,1024.8 1577.2,1029.8 1578.1,1024.8 1579.1,1024.8 1580.0,1019.8 1581.0,1024.8 1581.9,1024.8 1582.8,1024.8 1583.8,1029.8 1584.7,1024.8 1585.7,1029.8 1586.6,1029.8 1587.5,1029.8 1588.5,1029.8 1589.4,1029.8 1590.4,1029.8 1591.3,1024.8 1592.3,1024.8 1593.2,1024.8 1594.1,1024.8 1595.1,1024.8 1596.0,1029.8 1597.0,1024.8 1597.9,1024.8 1598.9,1024.8 1599.8,1024.8 1600.7,1019.8 1601.7,1019.8 1602.6,1019.8 1603.6,1019.8 1604.5,1019.8 1605.5,1014.8 1606.4,1014.8 1607.3,1014.8 1608.3,1014.8 1609.2,1014.8 1610.2,1019.8 1611.1,1014.8 1612.1,1014.8 1613.0,1019.8 1613.9,1019.8 1614.9,1019.8 1615.8,1019.8 1616.8,1019.8 1617.7,1019.8 1618.7,1019.8 1619.6,1019.8 1620.5,1019.8 1621.5,1019.8 1622.4,1019.8 1623.4,1019.8 1624.3,1019.8 1625.2,1024.8 1626.2,1024.8 1627.1,1024.8 1628.1,1024.8 1629.0,1024.8 1630.0,1024.8 1630.9,1024.8 1631.8,1024.8 1632.8,1024.8 1633.7,1024.8 1634.7,1024.8 1635.6,1024.8 1636.6,1024.8 1637.5,1024.8 1638.4,1024.8 1639.4,1024.8 1640.3,1024.8 1641.3,1024.8 1642.2,1024.8 1643.2,1024.8 1644.1,1024.8 1645.0,1029.8 1646.0,1024.8 1646.9,1024.8 1647.9,1024.8 1648.8,1019.8 1649.8,1019.8 1650.7,1019.8 1651.6,1019.8 1652.6,1019.8 1653.5,1019.8 1654.5,1024.8 1655.4,1024.8 1656.3,1019.8 1657.3,1024.8 1658.2,1024.8 1659.2,1024.8 1660.1,1024.8 1661.1,1024.8 1662.0,1024.8 1662.9,1024.8 1663.9,1019.8 1664.8,1024.8 1665.8,1019.8 1666.7,1019.8 1667.7,1019.8 1668.6,1024.8 1669.5,1024.8 1670.5,1024.8 1671.4,1024.8 1672.4,1024.8 1673.3,1029.8 1674.3,1029.8 1675.2,1029.8 1676.1,1029.8 1677.1,1029.8 1678.0,1034.7 1679.0,1034.7 1679.9,1034.7 1680.9,1034.7 1681.8,1034.7 1682.7,1039.7 1683.7,1034.7 1684.6,1034.7 1685.6,1034.7 1686.5,1034.7 1687.5,1029.8 1688.4,1034.7 1689.3,1034.7 1690.3,1034.7 1691.2,1034.7 1692.2,1029.8 1693.1,1029.8 1694.0,1029.8 1695.0,1029.8 1695.9,1034.7 1696.9,1034.7 1697.8,1034.7 1698.8,1034.7 1699.7,1034.7 1700.6,1034.7 1701.6,1034.7 1702.5,1034.7 1703.5,1034.7 1704.4,1034.7 1705.4,1034.7 1706.3,1034.7 1707.2,1034.7 1708.2,1034.7 1709.1,1034.7 1710.1,1034.7 1711.0,1039.7 1712.0,1039.7 1712.9,1039.7 1713.8,1034.7 1714.8,1039.7 1715.7,1039.7 1716.7,1039.7 1717.6,1039.7 1718.6,1034.7 1719.5,1034.7 1720.4,1034.7 1721.4,1034.7 1722.3,1034.7 1723.3,1034.7 1724.2,1034.7 1725.2,1039.7 1726.1,1039.7 1727.0,1039.7 1728.0,1039.7 1728.9,1039.7 1729.9,1039.7 1730.8,1039.7 1731.8,1039.7 1732.7,1039.7 1733.6,1039.7 1734.6,1039.7 1735.5,1039.7 1736.5,1039.7 1737.4,1039.7 1738.3,1039.7 1739.3,1039.7 1740.2,1034.7 1741.2,1034.7 1742.1,1034.7 1743.1,1034.7 1744.0,1034.7 1744.9,1034.7 1745.9,1034.7 1746.8,1039.7 1747.8,1034.7 1748.7,1034.7 1749.7,1034.7 1750.6,1034.7 1751.5,1034.7 1752.5,1034.7 1753.4,1034.7 1754.4,1034.7 1755.3,1034.7 1756.3,1034.7 1757.2,1039.7 1758.1,1039.7 1759.1,1044.7 1760.0,1044.7 1761.0,1044.7 1761.9,1044.7 1762.9,1044.7 1763.8,1044.7 1764.7,1044.7 1765.7,1044.7 1766.6,1044.7 1767.6,1044.7 1768.5,1044.7 1769.5,1044.7 1770.4,1044.7 1771.3,1044.7 1772.3,1044.7 1773.2,1044.7 1774.2,1044.7 1775.1,1044.7 1776.0,1044.7 1777.0,1044.7 1777.9,1044.7 1778.9,1044.7 1779.8,1044.7 1780.8,1039.7 1781.7,1044.7 1782.6,1044.7 1783.6,1044.7 1784.5,1044.7 1785.5,1044.7 1786.4,1044.7 1787.4,1044.7 1788.3,1044.7 1789.2,1044.7 1790.2,1044.7 1791.1,1044.7 1792.1,1044.7 1793.0,1044.7 1794.0,1044.7 1794.9,1044.7 1795.8,1049.7 1796.8,1049.7 1797.7,1049.7 1798.7,1049.7 1799.6,1049.7 1800.6,1049.7 1801.5,1049.7 1802.4,1049.7 1803.4,1049.7 1804.3,1049.7 1805.3,1049.7 1806.2,1049.7 1807.2,1049.7 1808.1,1054.7 1809.0,1054.7 1810.0,1054.7 1810.9,1054.7 1811.9,1054.7 1812.8,1054.7 1813.7,1054.7 1814.7,1054.7 1815.6,1054.7 1816.6,1054.7 1817.5,1054.7 1818.5,1054.7 1819.4,1054.7 1820.3,1049.7 1821.3,1049.7 1822.2,1049.7 1823.2,1049.7 1824.1,1054.7 1825.1,1054.7 1826.0,1054.7"/>
<polyline class="curve" style="stroke-width:6.6" stroke="#0000ff" points="318.0,488.4 318.9,484.3 319.9,484.3 320.8,484.3 321.8,480.2 322.7,480.2 323.7,480.2 324.6,476.1 325.5,484.3 326.5,480.2 327.4,480.2 328.4,484.3 329.3,488.4 330.3,488.4 331.2,488.4 332.1,488.4 333.1,496.6 334.0,496.6 335.0,500.7 335.9,496.6 336.9,504.8 337.8,500.7 338.7,496.6 339.7,500.7 340.6,492.5 341.6,488.4 342.5,488.4 343.4,484.3 344.4,492.5 345.3,488.4 346.3,488.4 347.2,496.6 348.2,488.4 349.1,496.6 350.0,488.4 351.0,492.5 351.9,492.5 352.9,500.7 353.8,500.7 354.8,496.6 355.7,500.7 356.6,496.6 357.6,500.7 358.5,496.6 359.5,496.6 360.4,496.6 361.4,500.7 362.3,508.9 363.2,504.8 364.2,504.8 365.1,508.9 366.1,504.8 367.0,504.8 368.0,504.8 368.9,504.8 369.8,508.9 370.8,504.8 371.7,513.0 372.7,513.0 373.6,517.1 374.6,517.1 375.5,517.1 376.4,521.2 377.4,529.4 378.3,525.3 379.3,529.4 380.2,529.4 381.1,533.5 382.1,537.6 383.0,537.6 384.0,541.7 384.9,541.7 385.9,541.7 386.8,545.8 387.7,549.9 388.7,545.8 389.6,549.9 390.6,549.9 391.5,549.9 392.5,549.9 393.4,558.1 394.3,558.1 395.3,562.2 396.2,558.1 397.2,562.2 398.1,562.2 399.1,566.3 400.0,570.4 400.9,574.5 401.9,574.5 402.8,574.5 403.8,578.6 404.7,578.6 405.7,578.6 406.6,578.6 407.5,582.7 408.5,586.8 409.4,590.9 410.4,586.8 411.3,590.9 412.2,590.9 413.2,595.0 414.1,595.0 415.1,590.9 416.0,595.0 417.0,595.0 417.9,599.1 418.8,595.0 419.8,599.1 420.7,595.0 421.7,599.1 422.6,599.1 423.6,603.2 424.5,603.2 425.4,599.1 426.4,603.2 427.3,603.2 428.3,603.2 429.2,599.1 430.2,603.2 431.1,599.1 432.0,599.1 433.0,599.1 433.9,599.1 434.9,599.1 435.8,599.1 436.8,599.1 437.7,599.1 438.6,599.1 439.6,595.0 440.5,590.9 441.5,586.8 442.4,586.8 443.4,586.8 444.3,582.7 445.2,582.7 446.2,586.8 447.1,582.7 448.1,578.6 449.0,578.6 449.9,574.5 450.9,574.5 451.8,570.4 452.8,566.3 453.7,566.3 454.7,566.3 455.6,562.2 456.5,562.2 457.5,558.1 458.4,554.0 459.4,558.1 460.3,549.9 461.3,549.9 462.2,549.9 463.1,545.8 464.1,545.8 465.0,537.6 466.0,537.6 466.9,537.6 467.9,537.6 468.8,529.4 469.7,529.4 470.7,529.4 471.6,521.2 472.6,521.2 473.5,521.2 474.5,513.0 475.4,513.0 476.3,504.8 477.3,504.8 478.2,500.7 479.2,500.7 480.1,496.6 481.1,496.6 482.0,488.4 482.9,484.3 483.9,484.3 484.8,480.2 485.8,472.0 486.7,472.0 487.6,467.9 488.6,463.8 489.5,463.8 490.5,459.7 491.4,455.6 492.4,447.4 493.3,443.3 494.2,443.3 495.2,439.2 496.1,439.2 497.1,435.1 498.0,431.0 499.0,431.0 499.9,422.8 500.8,418.7 501.8,422.8 502.7,410.5 503.7,410.5 504.6,410.5 505.6,406.4 506.5,398.2 507.4,398.2 508.4,390.0 509.3,385.9 510.3,385.9 511.2,381.8 512.2,377.7 513.1,377.7 514.0,373.6 515.0,369.5 515.9,365.4 516.9,361.3 517.8,361.3 518.8,357.2 519.7,357.2 520.6,353.1 521.6,349.0 522.5,344.9 523.5,340.8 524.4,336.7 525.4,332.6 526.3,332.6 527.2,328.5 528.2,324.4 529.1,320.3 530.1,316.2 531.0,316.2 531.9,312.1 532.9,308.0 533.8,308.0 534.8,303.9 535.7,303.9 536.7,303.9 537.6,299.8 538.5,295.7 539.5,295.7 540.4,291.6 541.4,287.5 542.3,287.5 543.3,283.4 544.2,283.4 545.1,275.2 546.1,279.3 547.0,275.2 548.0,275.2 548.9,267.0 549.9,267.0 550.8,262.9 551.7,262.9 552.7,258.8 553.6,258.8 554.6,258.8 555.5,258.8 556.5,254.7 557.4,254.7 558.3,254.7 559.3,250.6 560.2,246.5 561.2,250.6 562.1,250.6 563.0,250.6 564.0,246.5 564.9,242.4 565.9,246.5 566.8,246.5 567.8,242.4 568.7,238.3 569.6,238.3 570.6,238.3 571.5,238.3 572.5,238.3 573.4,238.3 574.4,238.3 575.3,234.2 576.2,234.2 577.2,234.2 578.1,234.2 579.1,234.2 580.0,230.1 581.0,234.2 581.9,234.2 582.8,230.1 583.8,230.1 584.7,234.2 585.7,234.2 586.6,234.2 587.6,234.2 588.5,234.2 589.4,230.1 590.4,234.2 591.3,234.2 592.3,234.2 593.2,238.3 594.2,234.2 595.1,234.2 596.0,238.3 597.0,242.4 597.9,238.3 598.9,242.4 599.8,238.3 600.8,242.4 601.7,242.4 602.6,242.4 603.6,246.5 604.5,246.5 605.5,246.5 606.4,246.5 607.3,250.6 608.3,250.6 609.2,250.6 610.2,254.7 611.1,258.8 612.1,262.9 613.0,262.9 613.9,262.9 614.9,267.0 615.8,275.2 616.8,271.1 617.7,275.2 618.7,279.3 619.6,279.3 620.5,283.4 621.5,283.4 622.4,287.5 623.4,291.6 624.3,295.7 625.3,295.7 626.2,303.9 627.1,303.9 628.1,308.0 629.0,312.1 630.0,316.2 630.9,316.2 631.9,320.3 632.8,328.5 633.7,328.5 634.7,332.6 635.6,336.7 636.6,340.8 637.5,344.9 638.5,353.1 639.4,349.0 640.3,353.1 641.3,357.2 642.2,361.3 643.2,365.4 644.1,369.5 645.0,373.6 646.0,377.7 646.9,377.7 647.9,385.9 648.8,390.0 649.8,390.0 650.7,390.0 651.6,398.2 652.6,406.4 653.5,406.4 654.5,414.6 655.4,414.6 656.4,418.7 657.3,426.9 658.2,431.0 659.2,435.1 660.1,439.2 661.1,439.2 662.0,443.3 663.0,447.4 663.9,451.5 664.8,451.5 665.8,455.6 666.7,463.8 667.7,467.9 668.6,476.1 669.6,480.2 670.5,480.2 671.4,480.2 672.4,484.3 673.3,488.4 674.3,492.5 675.2,492.5 676.1,496.6 677.1,500.7 678.0,504.8 679.0,508.9 679.9,508.9 680.9,517.1 681.8,521.2 682.7,521.2 683.7,525.3 684.6,529.4 685.6,533.5 686.5,537.6 687.5,537.6 688.4,541.7 689.3,541.7 690.3,545.8 691.2,545.8 692.2,549.9 693.1,558.1 694.1,558.1 695.0,562.2 695.9,566.3 696.9,562.2 697.8,570.4 698.8,570.4 699.7,570.4 700.7,574.5 701.6,574.5 702.5,574.5 703.5,578.6 704.4,582.7 705.4,586.8 706.3,586.8 707.3,586.8 708.2,595.0 709.1,599.1 710.1,599.1 711.0,599.1 712.0,603.2 712.9,599.1 713.9,603.2 714.8,607.3 715.7,611.4 716.7,611.4 717.6,611.4 718.6,615.5 719.5,615.5 720.4,615.5 721.4,615.5 722.3,615.5 723.3,615.5 724.2,619.6 725.2,619.6 726.1,623.7 727.0,623.7 728.0,623.7 728.9,627.8 729.9,627.8 730.8,631.9 731.8,631.9 732.7,631.9 733.6,636.0 734.6,640.1 735.5,636.0 736.5,640.1 737.4,640.1 738.4,644.2 739.3,644.2 740.2,644.2 741.2,640.1 742.1,644.2 743.1,648.3 744.0,648.3 745.0,648.3 745.9,648.3 746.8,652.4 747.8,652.4 748.7,648.3 749.7,652.4 750.6,652.4 751.5,652.4 752.5,656.5 753.4,652.4 754.4,656.5 755.3,656.5 756.3,664.7 757.2,664.7 758.1,668.8 759.1,677.0 760.0,672.9 761.0,672.9 761.9,672.9 762.9,668.8 763.8,672.9 764.7,672.9 765.7,677.0 766.6,677.0 767.6,672.9 768.5,677.0 769.5,677.0 770.4,681.1 771.3,681.1 772.3,681.1 773.2,685.2 774.2,681.1 775.1,685.2 776.1,685.2 777.0,685.2 777.9,685.2 778.9,689.3 779.8,689.3 780.8,693.4 781.7,697.5 782.7,693.4 783.6,693.4 784.5,697.5 785.5,697.5 786.4,697.5 787.4,697.5 788.3,701.6 789.2,701.6 790.2,697.5 791.1,701.6 792.1,701.6 793.0,701.6 794.0,705.7 794.9,701.6 795.8,705.7 796.8,709.8 797.7,709.8 798.7,709.8 799.6,709.8 800.6,713.9 801.5,709.8 802.4,718.0 803.4,713.9 804.3,713.9 805.3,713.9 806.2,713.9 807.2,718.0 808.1,713.9 809.0,718.0 810.0,713.9 810.9,713.9 811.9,713.9 812.8,718.0 813.8,722.1 814.7,718.0 815.6,722.1 816.6,722.1 817.5,726.2 818.5,726.2 819.4,722.1 820.4,722.1 821.3,726.2 822.2,726.2 823.2,730.3 824.1,726.2 825.1,722.1 826.0,722.1 827.0,722.1 827.9,722.1 828.8,726.2 829.8,726.2 830.7,726.2 831.7,730.3 832.6,730.3 833.5,734.4 834.5,734.4 835.4,734.4 836.4,738.5 837.3,734.4 838.3,738.5 839.2,738.5 840.1,738.5 841.1,742.6 842.0,742.6 843.0,738.5 843.9,742.6 844.9,742.6 845.8,746.7 846.7,746.7 847.7,746.7 848.6,746.7 849.6,750.8 850.5,750.8 851.5,750.8 852.4,750.8 853.3,750.8 854.3,750.8 855.2,750.8 856.2,750.8 857.1,750.8 858.1,754.9 859.0,750.8 859.9,750.8 860.9,754.9 861.8,754.9 862.8,754.9 863.7,754.9 864.6,754.9 865.6,754.9 866.5,759.0 867.5,759.0 868.4,759.0 869.4,759.0 870.3,759.0 871.2,759.0 872.2,763.1 873.1,759.0 874.1,759.0 875.0,759.0 876.0,759.0 876.9,763.1 877.8,763.1 878.8,767.2 879.7,771.3 880.7,771.3 881.6,771.3 882.6,771.3 883.5,767.2 884.4,771.3 885.4,771.3 886.3,771.3 887.3,775.4 888.2,771.3 889.2,775.4 890.1,775.4 891.0,771.3 892.0,775.4 892.9,775.4 893.9,775.4 894.8,775.4 895.8,775.4 896.7,775.4 897.6,775.4 898.6,775.4 899.5,775.4 900.5,779.5 901.4,779.5 902.4,779.5 903.3,779.5 904.2,779.5 905.2,775.4 906.1,779.5 907.1,779.5 908.0,779.5 908.9,779.5 909.9,779.5 910.8,783.6 911.8,783.6 912.7,783.6 913.7,787.7 914.6,787.7 915.5,787.7 916.5,787.7 917.4,787.7 918.4,787.7 919.3,787.7 920.3,791.8 921.2,787.7 922.1,791.8 923.1,787.7 924.0,787.7 925.0,791.8 925.9,791.8 926.9,791.8 927.8,791.8 928.7,791.8 929.7,791.8 930.6,791.8 931.6,795.9 932.5,795.9 933.5,795.9 934.4,800.0 935.3,800.0 936.3,800.0 937.2,800.0 938.2,804.1 939.1,795.9 940.0,800.0 941.0,800.0 941.9,804.1 942.9,804.1 943.8,808.2 944.8,804.1 945.7,808.2 946.6,808.2 947.6,808.2 948.5,808.2 949.5,808.2 950.4,812.3 951.4,812.3 952.3,812.3 953.2,812.3 954.2,812.3 955.1,812.3 956.1,812.3 957.0,812.3 958.0,812.3 958.9,812.3 959.8,812.3 960.8,816.4 961.7,816.4 962.7,816.4 963.6,816.4 964.6,816.4 965.5,820.5 966.4,820.5 967.4,820.5 968.3,820.5 969.3,820.5 970.2,820.5 971.2,820.5 972.1,820.5 973.0,820.5 974.0,820.5 974.9,820.5 975.9,824.6 976.8,824.6 977.8,824.6 978.7,824.6 979.6,828.7 980.6,824.6 981.5,828.7 982.5,828.7 983.4,828.7 984.3,828.7 985.3,828.7 986.2,828.7 987.2,828.7 988.1,832.8 989.1,836.9 990.0,836.9 990.9,836.9 991.9,836.9 992.8,832.8 993.8,832.8 994.7,832.8 995.7,836.9 996.6,832.8 997.5,832.8 998.5,832.8 999.4,832.8 1000.4,836.9 1001.3,832.8 1002.3,836.9 1003.2,841.0 1004.1,841.0 1005.1,841.0 1006.0,841.0 1007.0,841.0 1007.9,841.0 1008.9,841.0 1009.8,845.1 1010.7,849.2 1011.7,849.2 1012.6,849.2 1013.6,849.2 1014.5,849.2 1015.5,849.2 1016.4,845.1 1017.3,849.2 1018.3,845.1 1019.2,845.1 1020.2,845.1 1021.1,849.2 1022.0,853.3 1023.0,849.2 1023.9,849.2 1024.9,853.3 1025.8,849.2 1026.8,849.2 1027.7,849.2 1028.6,849.2 1029.6,853.3 1030.5,853.3 1031.5,853.3 1032.4,853.3 1033.4,853.3 1034.3,853.3 1035.2,857.4 1036.2,857.4 1037.1,857.4 1038.1,857.4 1039.0,857.4 1040.0,861.5 1040.9,857.4 1041.8,857.4 1042.8,861.5 1043.7,861.5 1044.7,861.5 1045.6,861.5 1046.6,861.5 1047.5,861.5 1048.4,865.6 1049.4,861.5 1050.3,861.5 1051.3,861.5 1052.2,861.5 1053.2,861.5 1054.1,861.5 1055.0,861.5 1056.0,861.5 1056.9,861.5 1057.9,861.5 1058.8,861.5 1059.7,861.5 1060.7,865.6 1061.6,865.6 1062.6,865.6 1063.5,869.7 1064.5,869.7 1065.4,869.7 1066.3,869.7 1067.3,869.7 1068.2,873.8 1069.2,873.8 1070.1,873.8 1071.1,877.9 1072.0,877.9 1072.9,873.8 1073.9,873.8 1074.8,873.8 1075.8,869.7 1076.7,873.8 1077.7,873.8 1078.6,873.8 1079.5,873.8 1080.5,873.8 1081.4,873.8 1082.4,873.8 1083.3,873.8 1084.3,873.8 1085.2,873.8 1086.1,873.8 1087.1,873.8 1088.0,873.8 1089.0,873.8 1089.9,873.8 1090.8,873.8 1091.8,873.8 1092.7,873.8 1093.7,873.8 1094.6,873.8 1095.6,873.8 1096.5,877.9 1097.4,877.9 1098.4,873.8 1099.3,873.8 1100.3,877.9 1101.2,877.9 1102.2,877.9 1103.1,877.9 1104.0,877.9 1105.0,882.0 1105.9,882.0 1106.9,882.0 1107.8,882.0 1108.8,886.1 1109.7,886.1 1110.6,882.0 1111.6,886.1 1112.5,886.1 1113.5,886.1 1114.4,886.1 1115.4,886.1 1116.3,882.0 1117.2,882.0 1118.2,886.1 1119.1,882.0 1120.1,882.0 1121.0,886.1 1122.0,882.0 1122.9,886.1 1123.8,886.1 1124.8,882.0 1125.7,886.1 1126.7,886.1 1127.6,886.1 1128.5,886.1 1129.5,886.1 1130.4,886.1 1131.4,886.1 1132.3,886.1 1133.3,886.1 1134.2,886.1 1135.1,886.1 1136.1,882.0 1137.0,886.1 1138.0,886.1 1138.9,886.1 1139.9,886.1 1140.8,890.2 1141.7,890.2 1142.7,890.2 1143.6,890.2 1144.6,890.2 1145.5,894.3 1146.5,894.3 1147.4,894.3 1148.3,898.4 1149.3,894.3 1150.2,894.3 1151.2,898.4 1152.1,898.4 1153.1,894.3 1154.0,898.4 1154.9,898.4 1155.9,898.4 1156.8,894.3 1157.8,894.3 1158.7,894.3 1159.7,894.3 1160.6,894.3 1161.5,894.3 1162.5,898.4 1163.4,894.3 1164.4,894.3 1165.3,894.3 1166.2,894.3 1167.2,894.3 1168.1,894.3 1169.1,894.3 1170.0,898.4 1171.0,898.4 1171.9,898.4 1172.8,898.4 1173.8,898.4 1174.7,898.4 1175.7,898.4 1176.6,898.4 1177.6,898.4 1178.5,898.4 1179.4,898.4 1180.4,902.5 1181.3,898.4 1182.3,902.5 1183.2,902.5 1184.2,902.5 1185.1,902.5 1186.0,902.5 1187.0,902.5 1187.9,898.4 1188.9,898.4 1189.8,898.4 1190.8,898.4 1191.7,902.5 1192.6,902.5 1193.6,902.5 1194.5,902.5 1195.5,902.5 1196.4,898.4 1197.4,902.5 1198.3,906.6 1199.2,906.6 1200.2,906.6 1201.1,906.6 1202.1,906.6 1203.0,906.6 1204.0,906.6 1204.9,906.6 1205.8,906.6 1206.8,906.6 1207.7,906.6 1208.7,906.6 1209.6,906.6 1210.5,902.5 1211.5,902.5 1212.4,902.5 1213.4,906.6 1214.3,902.5 1215.3,902.5 1216.2,906.6 1217.1,906.6 1218.1,906.6 1219.0,906.6 1220.0,906.6 1220.9,906.6 1221.9,906.6 1222.8,906.6 1223.7,906.6 1224.7,906.6 1225.6,910.7 1226.6,910.7 1227.5,910.7 1228.5,910.7 1229.4,906.6 1230.3,910.7 1231.3,910.7 1232.2,910.7 1233.2,910.7 1234.1,910.7 1235.1,910.7 1236.0,910.7 1236.9,910.7 1237.9,910.7 1238.8,910.7 1239.8,910.7 1240.7,914.8 1241.7,914.8 1242.6,910.7 1243.5,910.7 1244.5,910.7 1245.4,910.7 1246.4,914.8 1247.3,914.8 1248.2,918.9 1249.2,918.9 1250.1,914.8 1251.1,914.8 1252.0,910.7 1253.0,910.7 1253.9,910.7 1254.8,910.7 1255.8,910.7 1256.7,910.7 1257.7,910.7 1258.6,910.7 1259.6,914.8 1260.5,914.8 1261.4,914.8 1262.4,914.8 1263.3,914.8 1264.3,914.8 1265.2,914.8 1266.2,910.7 1267.1,910.7 1268.0,910.7 1269.0,910.7 1269.9,910.7 1270.9,910.7 1271.8,910.7 1272.8,910.7 1273.7,910.7 1274.6,910.7 1275.6,910.7 1276.5,910.7 1277.5,910.7 1278.4,910.7 1279.3,910.7 1280.3,910.7 1281.2,910.7 1282.2,910.7 1283.1,910.7 1284.1,914.8 1285.0,910.7 1285.9,914.8 1286.9,914.8 1287.8,914.8 1288.8,914.8 1289.7,914.8 1290.7,914.8 1291.6,914.8 1292.5,918.9 1293.5,914.8 1294.4,914.8 1295.4,914.8 1296.3,914.8 1297.3,914.8 1298.2,914.8 1299.1,914.8 1300.1,914.8 1301.0,914.8 1302.0,914.8 1302.9,914.8 1303.9,918.9 1304.8,918.9 1305.7,918.9 1306.7,918.9 1307.6,918.9 1308.6,918.9 1309.5,918.9 1310.5,918.9 1311.4,918.9 1312.3,914.8 1313.3,914.8 1314.2,914.8 1315.2,914.8 1316.1,914.8 1317.0,914.8 1318.0,914.8 1318.9,914.8 1319.9,914.8 1320.8,914.8 1321.8,918.9 1322.7,918.9 1323.6,914.8 1324.6,918.9 1325.5,914.8 1326.5,914.8 1327.4,914.8 1328.4,914.8 1329.3,914.8 1330.2,918.9 1331.2,918.9 1332.1,914.8 1333.1,918.9 1334.0,918.9 1335.0,918.9 1335.9,918.9 1336.8,918.9 1337.8,918.9 1338.7,918.9 1339.7,918.9 1340.6,918.9 1341.6,918.9 1342.5,918.9 1343.4,918.9 1344.4,918.9 1345.3,918.9 1346.3,918.9 1347.2,923.0 1348.2,923.0 1349.1,923.0 1350.0,923.0 1351.0,923.0 1351.9,923.0 1352.9,923.0 1353.8,923.0 1354.8,923.0 1355.7,923.0 1356.6,923.0 1357.6,918.9 1358.5,918.9 1359.5,923.0 1360.4,923.0 1361.3,927.1 1362.3,927.1 1363.2,927.1 1364.2,927.1 1365.1,927.1 1366.1,927.1 1367.0,927.1 1367.9,927.1 1368.9,923.0 1369.8,923.0 1370.8,923.0 1371.7,923.0 1372.7,923.0 1373.6,923.0 1374.5,923.0 1375.5,923.0 1376.4,927.1 1377.4,927.1 1378.3,927.1 1379.3,927.1 1380.2,927.1 1381.1,927.1 1382.1,927.1 1383.0,931.2 1384.0,931.2 1384.9,931.2 1385.9,931.2 1386.8,927.1 1387.7,931.2 1388.7,931.2 1389.6,931.2 1390.6,927.1 1391.5,927.1 1392.5,927.1 1393.4,927.1 1394.3,927.1 1395.3,923.0 1396.2,927.1 1397.2,927.1 1398.1,927.1 1399.0,927.1 1400.0,927.1 1400.9,931.2 1401.9,931.2 1402.8,931.2 1403.8,931.2 1404.7,931.2 1405.6,931.2 1406.6,927.1 1407.5,927.1 1408.5,927.1 1409.4,927.1 1410.4,927.1 1411.3,931.2 1412.2,931.2 1413.2,931.2 1414.1,931.2 1415.1,931.2 1416.0,931.2 1417.0,931.2 1417.9,927.1 1418.8,931.2 1419.8,927.1 1420.7,931.2 1421.7,927.1 1422.6,927.1 1423.6,927.1 1424.5,931.2 1425.4,931.2 1426.4,931.2 1427.3,931.2 1428.3,931.2 1429.2,931.2 1430.2,931.2 1431.1,931.2 1432.0,935.3 1433.0,935.3 1433.9,935.3 1434.9,935.3 1435.8,935.3 1436.7,931.2 1437.7,931.2 1438.6,931.2 1439.6,935.3 1440.5,935.3 1441.5,935.3 1442.4,935.3 1443.3,935.3 1444.3,935.3 1445.2,935.3 1446.2,935.3 1447.1,939.4 1448.1,939.4 1449.0,935.3 1449.9,939.4 1450.9,939.4 1451.8,939.4 1452.8,939.4 1453.7,939.4 1454.7,939.4 1455.6,939.4 1456.5,939.4 1457.5,939.4 1458.4,939.4 1459.4,939.4 1460.3,939.4 1461.3,939.4 1462.2,939.4 1463.1,939.4 1464.1,939.4 1465.0,939.4 1466.0,939.4 1466.9,943.5 1467.8,943.5 1468.8,943.5 1469.7,943.5 1470.7,943.5 1471.6,943.5 1472.6,943.5 1473.5,943.5 1474.4,943.5 1475.4,943.5 1476.3,943.5 1477.3,943.5 1478.2,943.5 1479.2,947.6 1480.1,947.6 1481.0,947.6 1482.0,947.6 1482.9,947.6 1483.9,947.6 1484.8,947.6 1485.8,947.6 1486.7,951.7 1487.6,947.6 1488.6,947.6 1489.5,947.6 1490.5,947.6 1491.4,951.7 1492.4,947.6 1493.3,951.7 1494.2,951.7 1495.2,951.7 1496.1,951.7 1497.1,951.7 1498.0,955.8 1499.0,955.8 1499.9,951.7 1500.8,951.7 1501.8,951.7 1502.7,951.7 1503.7,951.7 1504.6,951.7 1505.5,951.7 1506.5,955.8 1507.4,951.7 1508.4,955.8 1509.3,955.8 1510.3,955.8 1511.2,955.8 1512.1,951.7 1513.1,955.8 1514.0,955.8 1515.0,951.7 1515.9,955.8 1516.9,955.8 1517.8,951.7 1518.7,955.8 1519.7,955.8 1520.6,955.8 1521.6,955.8 1522.5,955.8 1523.5,955.8 1524.4,955.8 1525.3,955.8 1526.3,955.8 1527.2,951.7 1528.2,951.7 1529.1,951.7 1530.1,951.7 1531.0,955.8 1531.9,955.8 1532.9,955.8 1533.8,955.8 1534.8,955.8 1535.7,955.8 1536.7,955.8 1537.6,955.8 1538.5,959.9 1539.5,959.9 1540.4,959.9 1541.4,959.9 1542.3,964.0 1543.2,959.9 1544.2,959.9 1545.1,959.9 1546.1,959.9 1547.0,959.9 1548.0,959.9 1548.9,959.9 1549.8,964.0 1550.8,964.0 1551.7,964.0 1552.7,964.0 1553.6,964.0 1554.6,964.0 1555.5,964.0 1556.4,964.0 1557.4,964.0 1558.3,964.0 1559.3,964.0 1560.2,964.0 1561.2,964.0 1562.1,964.0 1563.0,964.0 1564.0,964.0 1564.9,959.9 1565.9,959.9 1566.8,959.9 1567.8,964.0 1568.7,959.9 1569.6,959.9 1570.6,959.9 1571.5,964.0 1572.5,964.0 1573.4,964.0 1574.4,964.0 1575.3,964.0 1576.2,964.0 1577.2,964.0 1578.1,964.0 1579.1,964.0 1580.0,968.1 1581.0,968.1 1581.9,968.1 1582.8,968.1 1583.8,968.1 1584.7,968.1 1585.7,968.1 1586.6,968.1 1587.5,968.1 1588.5,968.1 1589.4,968.1 1590.4,968.1 1591.3,968.1 1592.3,968.1 1593.2,968.1 1594.1,972.2 1595.1,972.2 1596.0,972.2 1597.0,972.2 1597.9,972.2 1598.9,968.1 1599.8,968.1 1600.7,968.1 1601.7,968.1 1602.6,964.0 1603.6,964.0 1604.5,968.1 1605.5,964.0 1606.4,968.1 1607.3,968.1 1608.3,964.0 1609.2,964.0 1610.2,964.0 1611.1,964.0 1612.1,964.0 1613.0,964.0 1613.9,964.0 1614.9,964.0 1615.8,964.0 1616.8,964.0 1617.7,968.1 1618.7,968.1 1619.6,968.1 1620.5,968.1 1621.5,968.1 1622.4,968.1 1623.4,968.1 1624.3,968.1 1625.2,968.1 1626.2,968.1 1627.1,968.1 1628.1,968.1 1629.0,972.2 1630.0,972.2 1630.9,972.2 1631.8,972.2 1632.8,972.2 1633.7,968.1 1634.7,968.1 1635.6,968.1 1636.6,972.2 1637.5,972.2 1638.4,972.2 1639.4,968.1 1640.3,972.2 1641.3,972.2 1642.2,972.2 1643.2,972.2 1644.1,972.2 1645.0,972.2 1646.0,972.2 1646.9,976.3 1647.9,976.3 1648.8,976.3 1649.8,976.3 1650.7,976.3 1651.6,976.3 1652.6,976.3 1653.5,976.3 1654.5,976.3 1655.4,976.3 1656.3,976.3 1657.3,972.2 1658.2,964.0 1659.2,959.9 1660.1,959.9 1661.1,964.0 1662.0,959.9 1662.9,959.9 1663.9,964.0 1664.8,964.0 1665.8,964.0 1666.7,964.0 1667.7,964.0 1668.6,964.0 1669.5,964.0 1670.5,968.1 1671.4,968.1 1672.4,968.1 1673.3,968.1 1674.3,968.1 1675.2,968.1 1676.1,968.1 1677.1,972.2 1678.0,972.2 1679.0,972.2 1679.9,972.2 1680.9,976.3 1681.8,976.3 1682.7,976.3 1683.7,976.3 1684.6,976.3 1685.6,976.3 1686.5,976.3 1687.5,976.3 1688.4,976.3 1689.3,976.3 1690.3,976.3 1691.2,976.3 1692.2,976.3 1693.1,976.3 1694.0,976.3 1695.0,976.3 1695.9,976.3 1696.9,976.3 1697.8,976.3 1698.8,976.3 1699.7,976.3 1700.6,976.3 1701.6,980.4 1702.5,980.4 1703.5,980.4 1704.4,980.4 1705.4,980.4 1706.3,980.4 1707.2,984.5 1708.2,984.5 1709.1,984.5 1710.1,984.5 1711.0,984.5 1712.0,980.4 1712.9,980.4 1713.8,980.4 1714.8,984.5 1715.7,984.5 1716.7,984.5 1717.6,984.5 1718.6,984.5 1719.5,984.5 1720.4,988.6 1721.4,988.6 1722.3,988.6 1723.3,988.6 1724.2,988.6 1725.2,988.6 1726.1,988.6 1727.0,988.6 1728.0,988.6 1728.9,988.6 1729.9,988.6 1730.8,988.6 1731.8,988.6 1732.7,988.6 1733.6,988.6 1734.6,988.6 1735.5,988.6 1736.5,988.6 1737.4,988.6 1738.3,988.6 1739.3,988.6 1740.2,988.6 1741.2,988.6 1742.1,988.6 1743.1,988.6 1744.0,988.6 1744.9,988.6 1745.9,988.6 1746.8,988.6 1747.8,988.6 1748.7,988.6 1749.7,988.6 1750.6,988.6 1751.5,988.6 1752.5,988.6 1753.4,988.6 1754.4,988.6 1755.3,988.6 1756.3,988.6 1757.2,992.7 1758.1,992.7 1759.1,992.7 1760.0,992.7 1761.0,996.8 1761.9,996.8 1762.9,996.8 1763.8,996.8 1764.7,996.8 1765.7,996.8 1766.6,996.8 1767.6,996.8 1768.5,996.8 1769.5,996.8 1770.4,996.8 1771.3,996.8 1772.3,996.8 1773.2,996.8 1774.2,996.8 1775.1,996.8 1776.0,996.8 1777.0,996.8 1777.9,996.8 1778.9,996.8 1779.8,996.8 1780.8,996.8 1781.7,996.8 1782.6,996.8 1783.6,996.8 1784.5,996.8 1785.5,996.8 1786.4,996.8 1787.4,996.8 1788.3,996.8 1789.2,996.8 1790.2,996.8 1791.1,996.8 1792.1,996.8 1793.0,996.8 1794.0,1000.9 1794.9,1000.9 1795.8,1000.9 1796.8,1000.9 1797.7,1000.9 1798.7,1000.9 1799.6,1000.9 1800.6,1000.9 1801.5,1005.0 1802.4,1005.0 1803.4,1005.0 1804.3,1005.0 1805.3,1005.0 1806.2,1009.1 1807.2,1005.0 1808.1,1005.0 1809.0,1005.0 1810.0,1005.0 1810.9,1009.1 1811.9,1005.0 1812.8,1005.0 1813.7,1005.0 1814.7,1005.0 1815.6,1005.0 1816.6,1005.0 1817.5,1005.0 1818.5,1005.0 1819.4,1005.0 1820.3,1005.0 1821.3,1005.0 1822.2,1009.1 1823.2,1005.0 1824.1,1009.1 1825.1,1009.1 1826.0,1009.1"/>
<line x1="1826.0" y1="63.0" x2="1826.0" y2="1317.5" stroke="#000" stroke-width="6"/>
<!-- ticks -->
<line x1="307" y1="1314.3" x2="317.0" y2="1314.3" stroke="#000" stroke-width="6" stroke-linecap="round"/>
<line x1="295" y1="1189.5" x2="317.0" y2="1189.5" stroke="#000" stroke-width="6" stroke-linecap="round"/>
<line x1="307" y1="1064.7" x2="317.0" y2="1064.7" stroke="#000" stroke-width="6" stroke-linecap="round"/>
<line x1="295" y1="939.9" x2="317.0" y2="939.9" stroke="#000" stroke-width="6" stroke-linecap="round"/>
<line x1="307" y1="815.1" x2="317.0" y2="815.1" stroke="#000" stroke-width="6" stroke-linecap="round"/>
<line x1="295" y1="690.3" x2="317.0" y2="690.3" stroke="#000" stroke-width="6" stroke-linecap="round"/>
<line x1="307" y1="565.5" x2="317.0" y2="565.5" stroke="#000" stroke-width="6" stroke-linecap="round"/>
<line x1="295" y1="440.7" x2="317.0" y2="440.7" stroke="#000" stroke-width="6" stroke-linecap="round"/>
<line x1="307" y1="315.9" x2="317.0" y2="315.9" stroke="#000" stroke-width="6" stroke-linecap="round"/>
<line x1="295" y1="191.1" x2="317.0" y2="191.1" stroke="#000" stroke-width="6" stroke-linecap="round"/>
<line x1="307" y1="66.3" x2="317.0" y2="66.3" stroke="#000" stroke-width="6" stroke-linecap="round"/>
<line x1="318.0" y1="1315.5" x2="318.0" y2="1337" stroke="#000" stroke-width="6" stroke-linecap="round"/>
<line x1="506.5" y1="1315.5" x2="506.5" y2="1325.5" stroke="#000" stroke-width="6" stroke-linecap="round"/>
<line x1="695.0" y1="1315.5" x2="695.0" y2="1337" stroke="#000" stroke-width="6" stroke-linecap="round"/>
<line x1="883.5" y1="1315.5" x2="883.5" y2="1325.5" stroke="#000" stroke-width="6" stroke-linecap="round"/>
<line x1="1072.0" y1="1315.5" x2="1072.0" y2="1337" stroke="#000" stroke-width="6" stroke-linecap="round"/>
<line x1="1260.5" y1="1315.5" x2="1260.5" y2="1325.5" stroke="#000" stroke-width="6" stroke-linecap="round"/>
<line x1="1449.0" y1="1315.5" x2="1449.0" y2="1337" stroke="#000" stroke-width="6" stroke-linecap="round"/>
<line x1="1637.5" y1="1315.5" x2="1637.5" y2="1325.5" stroke="#000" stroke-width="6" stroke-linecap="round"/>
<line x1="1826.0" y1="1315.5" x2="1826.0" y2="1337" stroke="#000" stroke-width="6" stroke-linecap="round"/>
<g filter="url(#hard)">
<!-- tick labels -->
<text transform="translate(279,1205.1) scale(1,1.055)" text-anchor="end" class="tk">0.000</text>
<text transform="translate(279,955.5) scale(1,1.055)" text-anchor="end" class="tk">0.005</text>
<text transform="translate(279,705.9) scale(1,1.055)" text-anchor="end" class="tk">0.010</text>
<text transform="translate(279,456.3) scale(1,1.055)" text-anchor="end" class="tk">0.015</text>
<text transform="translate(279,206.7) scale(1,1.055)" text-anchor="end" class="tk">0.020</text>
<text transform="translate(318.0,1395.5) scale(1,1.055)" text-anchor="middle" class="tk">200</text>
<text transform="translate(695.0,1395.5) scale(1,1.055)" text-anchor="middle" class="tk">300</text>
<text transform="translate(1072.0,1395.5) scale(1,1.055)" text-anchor="middle" class="tk">400</text>
<text transform="translate(1449.0,1395.5) scale(1,1.055)" text-anchor="middle" class="tk">500</text>
<text transform="translate(1826.0,1395.5) scale(1,1.055)" text-anchor="middle" class="tk">600</text>
<!-- axis titles -->
<text x="1072" y="1488" text-anchor="middle" class="lb">Wavelength (nm)</text>
<text transform="translate(85.3,671.3) rotate(-90)" text-anchor="middle" class="lb" style="font-size:61.9px">Absorption (%)</text>
<!-- legend -->
<line x1="972.7" y1="199" x2="1108.3" y2="199" stroke-linecap="round" stroke="#000" stroke-width="6.5"/>
<line x1="972.7" y1="275" x2="1108.3" y2="275" stroke-linecap="round" stroke="#ff0000" stroke-width="6.5"/>
<line x1="972.7" y1="350.7" x2="1108.3" y2="350.7" stroke-linecap="round" stroke="#0000ff" stroke-width="6.5"/>
<text x="1125" y="221" class="lb">Blank Quartz</text>
<text x="1125" y="296" class="lb" style="letter-spacing:0.35px">SWNTs-Quartz</text>
<text x="1125" y="371.5" class="lb" style="letter-spacing:0.1px">s6DNA-SWNTs-Quartz</text>
</g>
</svg>
</body>
</html>
